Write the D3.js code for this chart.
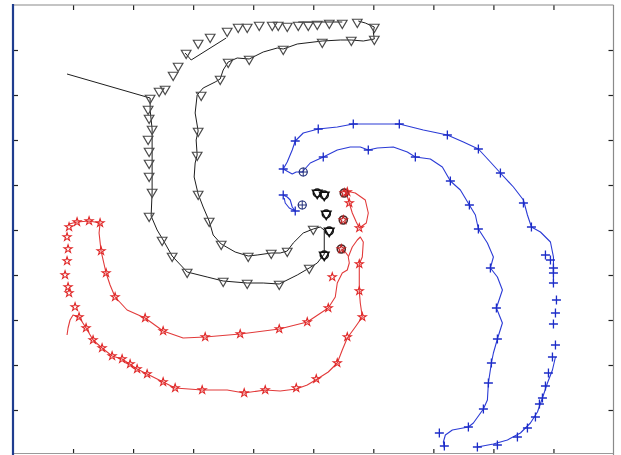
<!DOCTYPE html>
<html><head><meta charset="utf-8">
<script src="https://cdn.jsdelivr.net/npm/d3@7"></script>
<style>html,body{margin:0;padding:0;background:#fff;overflow:hidden}svg{display:block}</style>
</head><body>
<svg id="chart" width="621" height="455"></svg>
<script>
// ---- axis ticks (no labels in the original) ----
const xTicks = [-240, -180, -120, -60, 0, 60, 120, 180, 240];
const yTicks = [-180, -135, -90, -45, 0, 45, 90, 135, 180];

// ---- black trajectory (triangle markers) ----
const blackLine = [[-246,156],[-163,132],[-163,120],[-161,101],[-161,63],[-161,38],[-162,14],[-156,0],[-150,-10],[-141,-26],[-126,-42],[-106,-47],[-90,-51],[-66,-53],[-50,-53],[-34,-54],[-16,-45],[-4,-38],[4,-33],[11,-24],[11,0],[7,3],[0,1],[-10,-3],[-20,-13],[-26,-21],[-33,-23],[-42,-23],[-56,-25],[-65,-26],[-78,-22],[-92,-14],[-100,-5],[-104,9],[-110,23],[-115,36],[-119,53],[-118,67],[-116,75],[-117,90],[-115,99],[-118,117],[-116,135],[-110,142],[-98,148],[-93,151],[-90,160],[-85,168],[-76,172],[-64,171],[-50,178],[-36,182],[-30,181],[-16,186],[9,189],[27,190],[38,190],[50,189],[61,191],[60,198],[61,203],[52,207],[45,209]];
const blackTopLine = [[-15,208],[29,208]];
const blackLoopLine = [[-128,177],[-122,170],[-87,192]];
const blackMarkers = [[-163,132],[-165,121],[-164,112],[-161,101],[-165,91],[-164,79],[-164,67],[-164,54],[-161,38],[-164,14],[-151,-10],[-141,-26],[-126,-42],[-90,-51],[-66,-53],[-34,-54],[-4,-38],
  [0,1],[-26,-21],[-42,-23],[-65,-26],[-92,-14],[-104,9],[-115,36],[-116,75],[-115,99],[-112,135],[-93,151],[-85,168],[-64,171],[-30,181],[9,188],[38,190],[61,191],[61,203],
  [-154,139],[-148,141],[-140,155],[-135,164],[-127,177],[-115,187],[-103,193],[-86,199],[-75,203],[-66,203],[-54,205],[-41,205],[-35,205],[-26,204],[-15,205],[-5,205],[4,206],[16,207],[29,207],[44,208]];
const blackStarts = [[4,37],[11,35],[13,16],[16,-1],[11,-25]];

// ---- blue trajectory (plus markers) ----
const blueOuterLine = [[-10,58],[-17,58],[-21,56],[-30,61],[-26,68],[-21,80],[-18,89],[-10,97],[5,101],[24,103],[40,106],[86,106],[110,100],[134,95],[150,88],[165,81],[177,68],[187,57],[200,43],[210,30],[214,15],[218,3],[227,-2],[237,-12],[240,-27],[240,-43],[240,-55],null,[242,-127],[239,-140],[234,-153],[229,-168],[224,-182],[217,-193],[207,-203],[194,-210],[180,-214],[164,-217]];
const blueInnerLine = [[-11,58],[-3,67],[10,73],[24,80],[37,83],[47,83],[55,80],[64,82],[80,83],[94,78],[102,73],[117,71],[129,63],[137,49],[147,40],[156,25],[162,15],[165,1],[174,-13],[180,-27],[177,-38],[184,-47],[189,-60],[183,-78],[189,-93],[184,-109],[180,-123],[178,-133],[175,-153],[174,-170],[170,-179],[160,-193],[155,-197],[139,-200],[132,-205],[130,-212],[131,-218]];
const blueLoopLine = [[-30,35],[-26,33],[-23,30],[-21,23],[-18,19],[-24,22],[-28,27],[-29,32]];
const blueMarkers = [[-30,61],[-18,89],[5,101],[40,106],[86,106],[134,95],[165,81],[187,57],[210,27],[218,3],[232,-25],[237,-30],[240,-38],[240,-43],[240,-53],[243,-70],[242,-83],[240,-94],[242,-115],[239,-127],[235,-143],[232,-156],[229,-168],[226,-174],[222,-187],[214,-198],[204,-207],[184,-215],[164,-217],
  [10,73],[55,80],[102,73],[137,49],[156,25],[165,1],[177,-38],[183,-78],[184,-109],[178,-133],[175,-153],[170,-179],[155,-197],[126,-203],[131,-216],
  [-30,35],[-18,19]];
const blueStarts = [[-10,58],[-11,25]];

// ---- red trajectory (star markers) ----
const redLine = [[-244,6],[-236,8],[-224,9],[-213,7],[-214,-3],[-212,-21],[-207,-43],[-203,-55],[-198,-67],[-186,-80],[-168,-88],[-150,-101],[-130,-108],[-108,-107],[-73,-104],[-34,-99],[-6,-92],[15,-78],[22,-67],[24,-53],[29,-43],[34,-40],[36,-33],[35,-27],[39,-17],[44,-10],[47,-7],[50,-12],[49,-27],[46,-34],[46,-61],[47,-73],[49,-87],[42,-97],[34,-108],[29,-120],[24,-133],[15,-142],[4,-149],[-6,-155],[-17,-159],[-33,-161],[-48,-160],[-69,-163],[-86,-160],[-111,-160],[-138,-158],[-150,-152],[-166,-144],[-176,-139],[-191,-129],[-201,-126],[-211,-118],[-220,-110],[-227,-98],[-234,-87],[-240,-85],[-243,-90],[-245,-98],[-246,-105]];
const redStub = [[28,-19],[32,-22],[35,-26]];
const redLoopLine = [[33,39],[42,37],[52,30],[55,17],[53,7],[46,2],[43,8],[39,17],[36,27],[33,37]];
const redMarkers = [[-236,8],[-224,9],[-213,7],[-212,-21],[-207,-43],[-198,-67],[-168,-88],[-150,-101],[-108,-107],[-73,-104],[-34,-99],[-6,-92],[15,-78],[19,-47],
  [-244,3],[-246,-7],[-245,-19],[-246,-31],[-248,-45],[-245,-57],[-244,-63],[-238,-77],
  [-234,-87],[-227,-98],[-220,-110],[-211,-118],[-201,-126],[-191,-129],[-183,-134],[-176,-139],[-166,-144],[-150,-152],[-138,-158],[-111,-160],[-69,-163],[-48,-160],[-17,-158],[3,-149],[24,-133],[34,-107],[49,-87],[46,-61],[46,-34],
  [34,38],[36,27],[46,2]];
const redStarts = [[31,37],[30,10],[28,-19]];

// ---- drawing ----
const W = 621, H = 455;
const box = {left: 13, right: 613.5, top: 5, bottom: 454};
const svg = d3.select("#chart");
const x = d3.scaleLinear().domain([-300, 300]).range([box.left, box.right]);
const y = d3.scaleLinear().domain([-225, 225]).range([455, box.top]);

const line = d3.line().defined(d => d != null).x(d => x(d[0])).y(d => y(d[1]));

const gLines = svg.append("g").attr("fill", "none").attr("stroke-linejoin", "round");
function drawLine(data, color, w) {
  gLines.append("path").attr("d", line(data)).attr("stroke", color).attr("stroke-width", w);
}
drawLine(blackLine, "#1e1e1e", 1);
drawLine(blackTopLine, "#1e1e1e", 1);
drawLine(blackLoopLine, "#1e1e1e", 1);
drawLine(blueOuterLine, "#2b3bd6", 1.1);
drawLine(blueInnerLine, "#2b3bd6", 1.1);
drawLine(blueLoopLine, "#2b3bd6", 1.1);
drawLine(redLine, "#e23a3a", 1.1);
drawLine(redStub, "#e23a3a", 1.1);
drawLine(redLoopLine, "#e23a3a", 1.1);

const gM = svg.append("g").attr("fill", "none");
const tri = d3.symbol().type(d3.symbolTriangle).size(40)();
const star = d3.symbol().type(d3.symbolStar).size(20)();
const plus = "M-4.5,0H4.5M0,-4.5V4.5";

function drawMarkers(data, path, color, w, rot) {
  gM.append("g").selectAll("path").data(data).join("path")
    .attr("d", path)
    .attr("transform", d => `translate(${x(d[0])},${y(d[1])})` + (rot ? ` rotate(${rot})` : ""))
    .attr("stroke", color).attr("stroke-width", w);
}
function drawCircles(data, color, w) {
  gM.append("g").selectAll("circle").data(data).join("circle")
    .attr("cx", d => x(d[0])).attr("cy", d => y(d[1])).attr("r", 4)
    .attr("stroke", color).attr("stroke-width", w);
}
drawMarkers(blackMarkers, tri, "#4a4a4a", 1.2, 180);
drawCircles(blackStarts, "#111", 1.5);
drawMarkers(blackStarts, tri, "#111", 1.4, 180);
drawMarkers(blueMarkers, plus, "#1c2cc8", 1.3, 0);
drawCircles(blueStarts, "#22307a", 1.2);
drawMarkers(blueStarts, plus, "#22307a", 1, 0);
drawCircles(redStarts, "#4a2626", 1.6);
drawMarkers(redStarts, star, "#c02424", 1.1, 0);
drawMarkers(redMarkers, star, "#e02828", 1.1, 0);

// ---- frame and inward ticks ----
const axG = svg.append("g").attr("color", "#222");
const noLab = () => "";
axG.append("g").attr("transform", `translate(0,${box.bottom})`)
  .call(d3.axisTop(x).tickValues(xTicks).tickSize(5).tickFormat(noLab));
axG.append("g").attr("transform", `translate(0,${box.top})`)
  .call(d3.axisBottom(x).tickValues(xTicks).tickSize(5).tickFormat(noLab));
axG.append("g").attr("transform", `translate(${box.left},0)`)
  .call(d3.axisRight(y).tickValues(yTicks).tickSize(5).tickFormat(noLab));
axG.append("g").attr("transform", `translate(${box.right},0)`)
  .call(d3.axisLeft(y).tickValues(yTicks).tickSize(5).tickFormat(noLab));
axG.selectAll(".domain").remove();
axG.selectAll(".tick line").attr("stroke-width", 1.2);

svg.append("line").attr("x1", box.left).attr("x2", box.right).attr("y1", box.top).attr("y2", box.top)
  .attr("stroke", "#8a8a8a").attr("stroke-width", 1.2);
svg.append("line").attr("x1", box.right).attr("x2", box.right).attr("y1", box.top).attr("y2", H)
  .attr("stroke", "#8a8a8a").attr("stroke-width", 1.2);
svg.append("line").attr("x1", box.left).attr("x2", box.right).attr("y1", box.bottom - 0.5).attr("y2", box.bottom - 0.5)
  .attr("stroke", "#9a9a9a").attr("stroke-width", 1);
svg.append("line").attr("x1", box.left).attr("x2", box.left).attr("y1", box.top - 1).attr("y2", H)
  .attr("stroke", "#1f3d8f").attr("stroke-width", 2.2);
</script>
</body></html>
